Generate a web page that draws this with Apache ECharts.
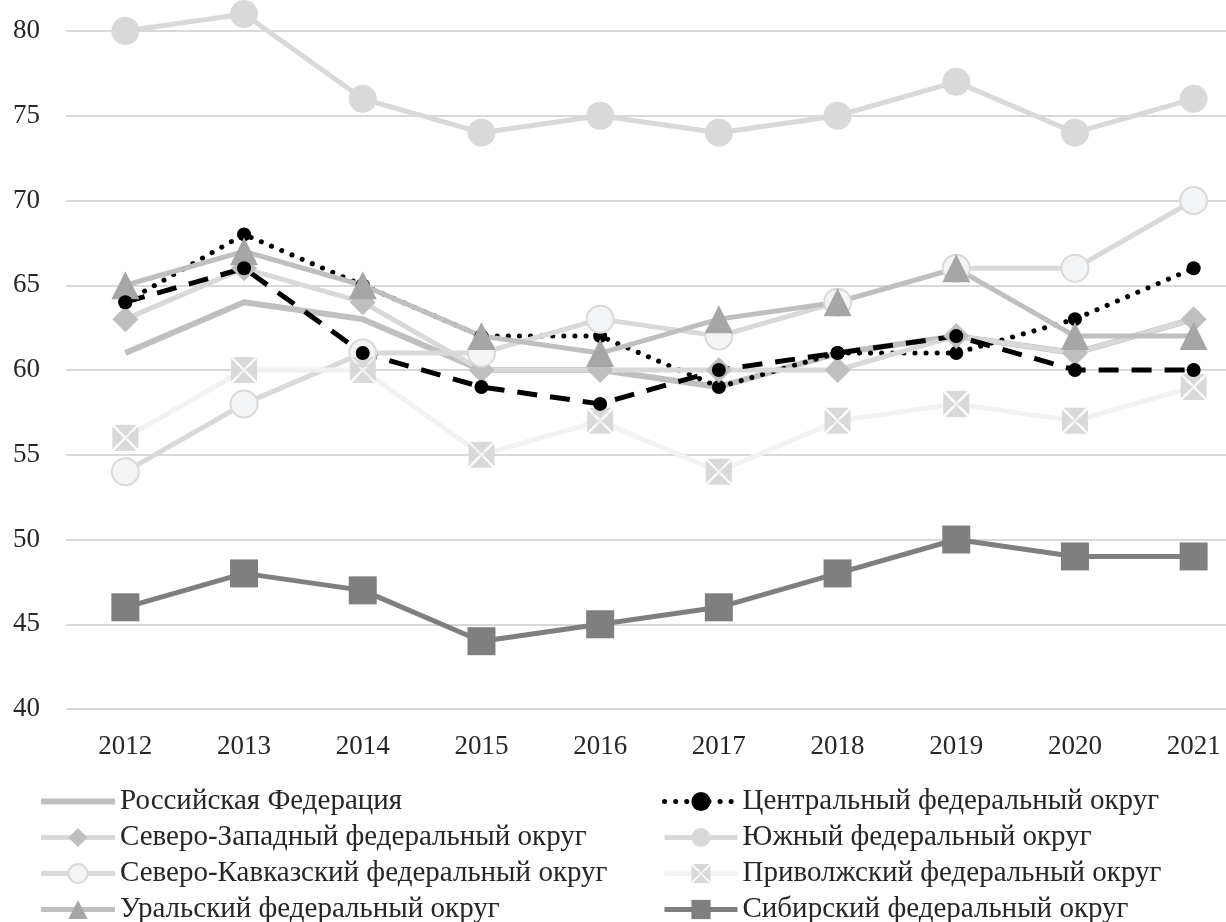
<!DOCTYPE html>
<html>
<head>
<meta charset="utf-8">
<script src="https://cdn.jsdelivr.net/npm/echarts@6/dist/echarts.min.js"></script>
<style>
  html, body { margin: 0; padding: 0; background: #fff; }
  #chart { width: 1226px; height: 922px; }
</style>
</head>
<body>
<div id="chart"></div>
<script>
const years = ["2012", "2013", "2014", "2015", "2016", "2017", "2018", "2019", "2020", "2021"];

const russia = [61, 64, 63, 60, 60, 59, 61, 62, 61, 63];
const central = [64, 68, 65, 62, 62, 59, 61, 61, 63, 66];
const northWest = [63, 66, 64, 60, 60, 60, 60, 62, 61, 63];
const south = [80, 81, 76, 74, 75, 74, 75, 77, 74, 76];
const northCaucasus = [54, 58, 61, 61, 63, 62, 64, 66, 66, 70];
const volga = [56, 60, 60, 55, 57, 54, 57, 58, 57, 59];
const ural = [65, 67, 65, 62, 61, 63, 64, 66, 62, 62];
const siberia = [46, 48, 47, 44, 45, 46, 48, 50, 49, 49];
const farEast = [64, 66, 61, 59, 58, 60, 61, 62, 60, 60];

const FONT = "Liberation Serif";
// square with a white X cut through it
const xBox = "path://M0.6,0L9.4,0L5,4.4Z M10,0.6L10,9.4L5.6,5Z M9.4,10L0.6,10L5,5.6Z M0,9.4L0,0.6L4.4,5Z";

const chart = echarts.init(document.getElementById("chart"));

function line(name, data, color, width, symbol, symbolSize, extra) {
  return Object.assign({
    name: name,
    type: "line",
    data: data,
    symbol: symbol,
    symbolSize: symbolSize,
    showSymbol: symbol !== "none",
    clip: false,
    lineStyle: { color: color, width: width },
    itemStyle: { color: color },
    emphasis: { disabled: true }
  }, extra || {});
}

const legendText = { fontFamily: FONT, fontSize: 29, color: "#262626" };

chart.setOption({
  animation: false,
  // the last category sticks out past the right edge of the picture
  grid: { left: 66, right: -27, top: 31, bottom: 213, outerBoundsMode: "none" },
  xAxis: {
    type: "category",
    data: years,
    axisLine: { show: false },
    axisTick: { show: false },
    axisLabel: { fontFamily: FONT, fontSize: 27, color: "#262626", margin: 24 }
  },
  yAxis: {
    type: "value",
    min: 40,
    max: 80,
    interval: 5,
    axisLine: { show: false },
    axisTick: { show: false },
    splitLine: { lineStyle: { color: "#d9d9d9", width: 2 } },
    axisLabel: { fontFamily: FONT, fontSize: 27, color: "#262626", margin: 26 }
  },
  legend: [
    {
      orient: "vertical", left: 38, top: 787, height: 200, padding: 0,
      itemWidth: 74, itemHeight: 24, itemGap: 7,
      lineStyle: { width: "inherit" },
      textStyle: legendText,
      data: [{ name: "Российская Федерация", itemStyle: { opacity: 0 } },
             "Северо-Западный федеральный округ",
             "Северо-Кавказский федеральный округ", "Уральский федеральный округ"]
    },
    {
      orient: "vertical", left: 662, top: 787, height: 200, padding: 0,
      itemWidth: 73, itemHeight: 24, itemGap: 7,
      lineStyle: { width: "inherit" },
      textStyle: legendText,
      data: ["Центральный федеральный округ", "Южный федеральный округ",
             "Приволжский федеральный округ", "Сибирский федеральный округ"]
    }
  ],
  series: [
    line("Российская Федерация", russia, "#bfbfbf", 6, "none", 0),
    line("Центральный федеральный округ", central, "#000", 5, "circle", 14, {
      lineStyle: { color: "#000", width: 5, type: [0.1, 11], cap: "round" }
    }),
    line("Северо-Западный федеральный округ", northWest, "#d9d9d9", 5, "diamond", 26, {
      itemStyle: { color: "#bfbfbf" }
    }),
    line("Южный федеральный округ", south, "#d9d9d9", 5, "circle", 28),
    line("Северо-Кавказский федеральный округ", northCaucasus, "#d9d9d9", 5, "circle", 27, {
      itemStyle: { color: "#f3f4f6", borderColor: "#d9d9d9", borderWidth: 2 }
    }),
    line("Приволжский федеральный округ", volga, "#f2f2f2", 5, xBox, 26, {
      itemStyle: { color: "#d9d9d9" }
    }),
    line("Уральский федеральный округ", ural, "#bfbfbf", 5, "triangle", 28, {
      itemStyle: { color: "#a6a6a6" }
    }),
    line("Сибирский федеральный округ", siberia, "#7f7f7f", 5, "rect", 28),
    line("Дальневосточный федеральный округ", farEast, "#000", 5, "circle", 14, {
      lineStyle: { color: "#000", width: 5, type: [20, 13] }
    })
  ]
});
</script>
</body>
</html>
